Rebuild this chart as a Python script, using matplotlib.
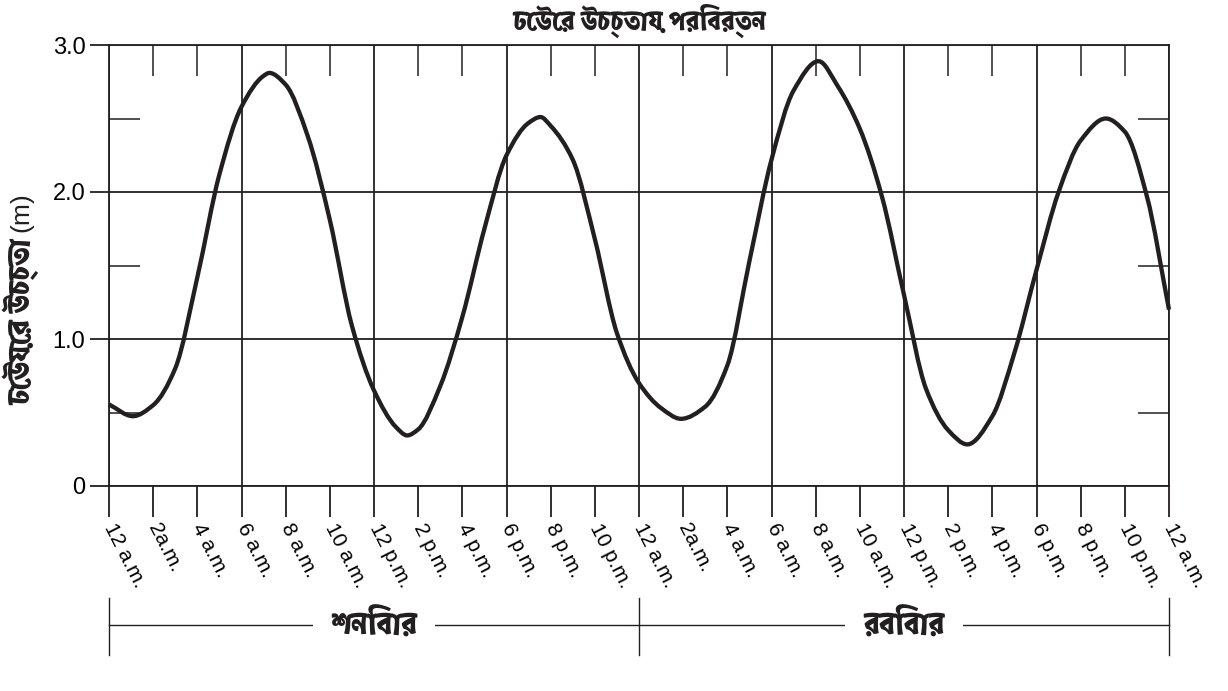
import matplotlib
matplotlib.use("Agg")
import matplotlib.pyplot as plt
import matplotlib.transforms as mtransforms
from matplotlib import font_manager
from matplotlib.ft2font import FT2Font
from matplotlib.path import Path
from matplotlib.patches import PathPatch

# tide height (m), time in hours from Saturday 12 a.m.
# hourly readings plus the turning points
hours = [0, 1.08, 2, 3, 4, 5, 6, 7, 7.26, 8, 9, 10, 11, 12, 13, 13.5,
         14, 15, 16, 17, 18, 19, 19.54, 20, 21, 22, 23, 24, 25, 25.9,
         27, 28, 29, 30, 31, 32.13, 33, 34, 35, 36, 37, 38, 38.87,
         40, 41, 42, 43, 44, 45.14, 46, 47, 48]
height = [0.555, 0.475, 0.55, 0.80, 1.42, 2.12, 2.58, 2.79, 2.81, 2.73, 2.38, 1.81, 1.09, 0.65, 0.40, 0.344,
          0.385, 0.68, 1.15, 1.75, 2.25, 2.47, 2.51, 2.45, 2.22, 1.68, 1.04, 0.70, 0.53, 0.457,
          0.54, 0.82, 1.53, 2.22, 2.69, 2.89, 2.72, 2.43, 1.97, 1.30, 0.66, 0.38, 0.283,
          0.475, 0.906, 1.47, 2.0, 2.35, 2.50, 2.41, 1.97, 1.20]

day_ticks = ["12 a.m.", "2a.m.", "4 a.m.", "6 a.m.", "8 a.m.", "10 a.m.",
             "12 p.m.", "2 p.m.", "4 p.m.", "6 p.m.", "8 p.m.", "10 p.m."]
tick_labels = day_ticks * 2 + ["12 a.m."]
days = ["শনিবার", "রবিবার"]
day_edges = [0, 24, 48]

title = "ঢেউের উচ্চতায় পরিবর্তন"
ylab = "ঢেউয়ের উচ্চতা"

# look for fonts that can draw Bengali, bold one preferred for the bold texts
bn_reg, bn_bold = None, None
for path in sorted(font_manager.findSystemFonts()):
    try:
        f = FT2Font(path)
        if 0x09A2 not in f.get_charmap():
            continue
        font_manager.fontManager.addfont(path)
        if 'bold' in f.style_name.lower():
            bn_bold = bn_bold or path
        else:
            bn_reg = bn_reg or path
    except Exception:
        pass
bn_bold = bn_bold or bn_reg


def bn_font(path, size, bold=False):
    if path:
        fp = font_manager.FontProperties(fname=path, size=size)
    else:
        fp = font_manager.FontProperties(family="Liberation Sans", size=size)
    if bold:
        fp.set_weight('bold')
    return fp


plt.rcParams['font.family'] = ["Liberation Sans", "DejaVu Sans"]

ink = "#231f20"
fig = plt.figure(figsize=(12.28, 6.91), dpi=100)
ax = fig.add_axes([109/1228, 1-486/691, 1060/1228, 441/691])

# smooth curve through the read points (monotone cubic pieces drawn as bezier)
n = len(hours)
d = [(height[i+1] - height[i]) / (hours[i+1] - hours[i]) for i in range(n - 1)]
m = [d[0]] + [0.0] * (n - 2) + [d[-1]]
for i in range(1, n - 1):
    if d[i-1] * d[i] > 0:
        h0, h1 = hours[i] - hours[i-1], hours[i+1] - hours[i]
        w1, w2 = 2 * h1 + h0, h1 + 2 * h0
        m[i] = (w1 + w2) / (w1 / d[i-1] + w2 / d[i])
verts, codes = [(hours[0], height[0])], [Path.MOVETO]
for i in range(n - 1):
    dx = hours[i+1] - hours[i]
    verts += [(hours[i] + dx/3, height[i] + m[i]*dx/3),
              (hours[i+1] - dx/3, height[i+1] - m[i+1]*dx/3),
              (hours[i+1], height[i+1])]
    codes += [Path.CURVE4] * 3
ax.add_patch(PathPatch(Path(verts, codes), fill=False, ec=ink, lw=3.1, capstyle='butt',
                       joinstyle='round', zorder=5, clip_on=False))

ax.set_xlim(0, 48)
ax.set_ylim(0, 3)

major_x = list(range(0, 49, 6))
minor_x = [h for h in range(0, 49, 2) if h % 6]
ax.set_xticks(major_x)
ax.set_xticks(minor_x, minor=True)
ax.set_xticklabels([tick_labels[h // 2] for h in major_x])
ax.set_xticklabels([tick_labels[h // 2] for h in minor_x], minor=True)
ax.tick_params(axis='x', which='both', direction='out', length=22, width=1.3, color=ink,
               labelsize=15, pad=6, top=False)
for lab in ax.get_xticklabels(which='both'):
    lab.set_rotation(-63)
    lab.set_rotation_mode('anchor')
    lab.set_ha('left')
    lab.set_va('center')

top = ax.secondary_xaxis('top')
top.set_xticks(minor_x)
top.tick_params(direction='in', length=22, width=1.1, color=ink, labeltop=False)
top.spines['top'].set_visible(False)

ax.set_yticks([0, 1, 2, 3])
ax.set_yticklabels(["0", "1.0", "2.0", "3.0"])
ax.set_yticks([0.5, 1.5, 2.5], minor=True)
ax.tick_params(axis='y', which='major', direction='out', length=14, width=1.3, color=ink,
               labelsize=17, pad=3, right=False)
ax.tick_params(axis='y', which='minor', direction='in', length=22, width=1.1, color=ink,
               left=True, right=True)

ax.grid(which='major', color=ink, lw=1.3)
for s in ax.spines.values():
    s.set_color(ink)
    s.set_linewidth(1.3)

fig.text(639/1228, 1-21/691, title, ha='center', va='center',
         fontproperties=bn_font(bn_bold, 19, True), color=ink)

# y label: bold Bengali part, then a regular "(m)"
yl = fig.text(21/1228, 1-405/691, ylab, rotation=90, rotation_mode='anchor', ha='left', va='center',
              fontproperties=bn_font(bn_bold, 21, True), color=ink)
fig.canvas.draw()
ext = yl.get_window_extent()
fig.text(21/1228, (ext.y1 + 6) / 691, "(m)", rotation=90, rotation_mode='anchor', ha='left',
         va='center', fontsize=19, color=ink)

# day brackets under the time axis
br = mtransforms.blended_transform_factory(ax.transData, ax.transAxes)
ax.plot([day_edges[0], day_edges[-1]], [-0.315, -0.315], color=ink, lw=1, transform=br, clip_on=False)
for e in day_edges:
    ax.plot([e, e], [-0.254, -0.383], color=ink, lw=1, transform=br, clip_on=False)
for i, dname in enumerate(days):
    mid = (day_edges[i] + day_edges[i + 1]) / 2
    ax.text(mid, -0.315, dname, transform=br, ha='center', va='center', color=ink,
            fontproperties=bn_font(bn_bold, 22, True),
            bbox=dict(boxstyle='square,pad=0.6', fc='white', ec='none'))

fig.savefig("out.png", dpi=100)
